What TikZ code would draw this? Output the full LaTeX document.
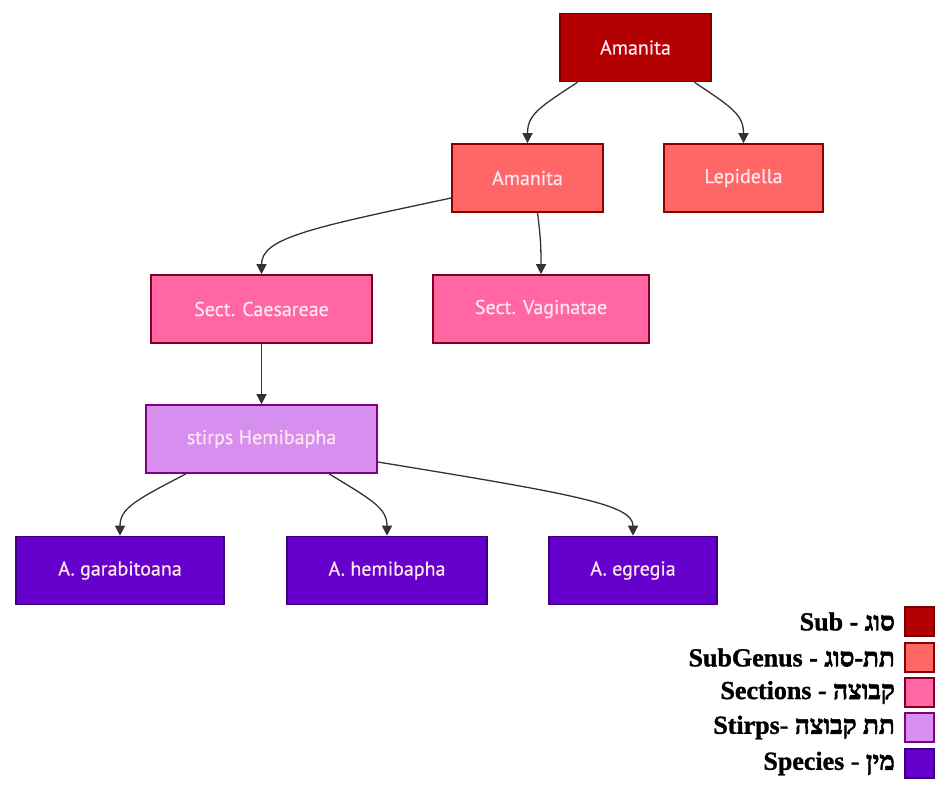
\documentclass[tikz,border=0pt]{standalone}
\usepackage{fontspec}
\setmainfont{PT Sans}
\newfontfamily\nodefont[FakeBold=0.6]{PT Sans}
\newfontfamily\legfont[UprightFont={Liberation Serif Bold},FakeBold=1.2]{Liberation Serif}
\newfontfamily\hebfont[Script=Hebrew,UprightFont={Liberation Serif Bold},FakeBold=2.2]{Liberation Serif}
\TeXXeTstate=1
\usetikzlibrary{arrows.meta,calc}
\definecolor{cGenus}{HTML}{B30000}
\definecolor{bGenus}{HTML}{7A0000}
\definecolor{cSub}{HTML}{FF6666}
\definecolor{bSub}{HTML}{8B0000}
\definecolor{cSect}{HTML}{FF66A3}
\definecolor{bSect}{HTML}{800020}
\definecolor{cStirps}{HTML}{D68FEF}
\definecolor{bStirps}{HTML}{800080}
\definecolor{cSpec}{HTML}{6600CC}
\definecolor{bSpec}{HTML}{3D0080}
\definecolor{txt}{HTML}{FFE6F0}
\definecolor{edgec}{HTML}{333333}
\tikzset{
  box/.style={rectangle, line width=1.6pt, minimum height=68pt, text=txt,
    font=\nodefont\fontsize{20}{24}\selectfont, inner sep=0pt},
  genus/.style={box, fill=cGenus, draw=bGenus},
  subg/.style={box, fill=cSub, draw=bSub},
  sect/.style={box, fill=cSect, draw=bSect},
  stirps/.style={box, fill=cStirps, draw=bStirps},
  spec/.style={box, fill=cSpec, draw=bSpec},
  edge/.style={draw=edgec, line width=1.3pt, -{Triangle[length=10pt,width=10pt]}},
  legtext/.style={anchor=east, inner sep=0pt, font=\legfont\fontsize{26}{30}\selectfont},
  legsq/.style={rectangle, minimum width=29pt, minimum height=29pt, inner sep=0pt, line width=1.2pt}
}
\begin{document}
\begin{tikzpicture}[x=1pt,y=-1pt]
\useasboundingbox (0,0) rectangle (940,788);
\fill[white] (0,0) rectangle (940,788);
% nodes
\node[genus, minimum width=151pt] (top) at (635.5,47.5) {Amanita};
\node[subg, minimum width=151pt] (amn) at (527.5,178) {Amanita};
\node[subg, minimum width=159pt] (lep) at (743.5,178) {Lepidella};
\node[sect, minimum width=221pt] (cae) at (261.5,309) {Sect. Caesareae};
\node[sect, minimum width=216pt] (vag) at (541,309) {Sect. Vaginatae};
\node[stirps, minimum width=231pt] (hem) at (261.5,439) {stirps Hemibapha};
\node[spec, minimum width=208pt] (gar) at (120,570.5) {A. garabitoana};
\node[spec, minimum width=200pt] (ahe) at (387,570.5) {A. hemibapha};
\node[spec, minimum width=168pt] (egr) at (633,570.5) {A. egregia};
% edges
\draw[edge] ([xshift=-58pt]top.south) .. controls (538,108) and (527.5,115) .. (amn.north);
\draw[edge] ([xshift=59pt]top.south) .. controls (733,108) and (743.5,115) .. (lep.north);
\draw[edge] ([yshift=-20pt]amn.west) .. controls (310,228) and (261.5,238) .. (cae.north);
\draw[edge] ([xshift=10pt]amn.south) .. controls (541,240) and (541,250) .. (vag.north);
\draw[edge] (cae.south) -- (hem.north);
\draw[edge] ([xshift=-75.5pt]hem.south) .. controls (136,500) and (120,508) .. (gar.north);
\draw[edge] ([xshift=67.5pt]hem.south) .. controls (372,500) and (387,508) .. (ahe.north);
\draw[edge] ([yshift=-23pt]hem.east) .. controls (580,495) and (633,505) .. (egr.north);
% legend
\node[legsq, fill=cGenus, draw=bGenus] (sq1) at (919.5,621.5) {};
\node[legsq, fill=cSub, draw=bSub] (sq2) at (919.5,657.5) {};
\node[legsq, fill=cSect, draw=bSect] (sq3) at (919.5,692.5) {};
\node[legsq, fill=cStirps, draw=bStirps] (sq4) at (919.5,727.5) {};
\node[legsq, fill=cSpec, draw=bSpec] (sq5) at (919.5,763.5) {};
\node[legtext] (l1) at (895,621.5) {Sub - {\hebfont\beginR סוג\endR}};
\node[legtext] (l2) at (895,657.5) {SubGenus - {\hebfont\beginR תת-סוג\endR}};
\node[legtext] (l3) at (895,692.5) {Sections - {\hebfont\beginR קבוצה\endR}};
\node[legtext] (l4) at (895,727.5) {Stirps- {\hebfont\beginR תת קבוצה\endR}};
\node[legtext] (l5) at (895,763.5) {Species - {\hebfont\beginR מין\endR}};
\end{tikzpicture}
\end{document}
